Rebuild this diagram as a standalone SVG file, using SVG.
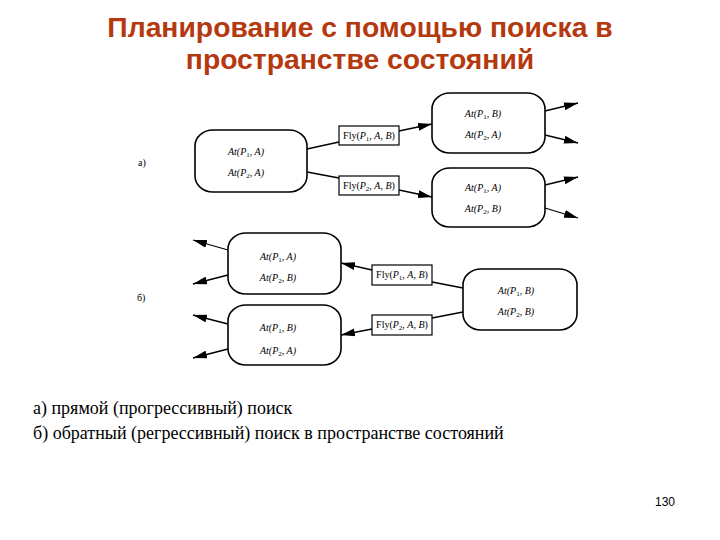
<svg xmlns="http://www.w3.org/2000/svg" width="720" height="540" viewBox="0 0 720 540">
<style>
.title{font-family:"Liberation Sans",Arial,sans-serif;font-weight:bold;font-size:28.3px;fill:#b5390f;text-anchor:middle}
.cap{font-family:"Liberation Serif","Times New Roman",serif;font-size:18px;fill:#000}
.num{font-family:"Liberation Sans",Arial,sans-serif;font-size:12px;fill:#000}
.st{fill:#fff;stroke:#000;stroke-width:1.6}
.op{fill:#fff;stroke:#000;stroke-width:1.2}
.lbl{font-family:"Liberation Serif","Times New Roman",serif;font-size:10px;font-style:italic;fill:#000;text-anchor:middle}
.flbl{font-family:"Liberation Serif","Times New Roman",serif;font-size:10px;fill:#000;text-anchor:middle}
.it{font-style:italic}
.sub{font-size:7px;font-style:normal}
.side{font-family:"Liberation Serif","Times New Roman",serif;font-size:10px;fill:#000}
.ln{stroke:#000;stroke-width:1.3;fill:none}
.arr{marker-end:url(#ah)}
</style>
<defs>
<marker id="ah" markerUnits="userSpaceOnUse" markerWidth="14" markerHeight="8" viewBox="0 0 14 8" refX="14" refY="4" orient="auto">
<path d="M0,0 L14,4 L0,8 Z" fill="#000"/>
</marker>
</defs>

<text class="title" x="360" y="37">Планирование с помощью поиска в</text>
<text class="title" x="360" y="69">пространстве состояний</text>

<text class="side" x="138" y="166">а)</text>
<text class="side" x="137" y="301">б)</text>

<g id="connectors">
<line class="ln" x1="307" y1="149" x2="339" y2="142"/>
<line class="ln arr" x1="399" y1="131" x2="432" y2="124"/>
<line class="ln" x1="307" y1="172" x2="339" y2="178"/>
<line class="ln arr" x1="399" y1="190" x2="432" y2="197"/>
<line class="ln arr" x1="545" y1="111" x2="578" y2="103"/>
<line class="ln arr" x1="545" y1="135" x2="578" y2="143"/>
<line class="ln arr" x1="545" y1="185" x2="578" y2="177"/>
<line class="ln arr" x1="545" y1="208" x2="578" y2="218"/>

<line class="ln" x1="463" y1="288" x2="432" y2="282"/>
<line class="ln arr" x1="372" y1="270" x2="341" y2="263"/>
<line class="ln" x1="463" y1="312" x2="432" y2="318"/>
<line class="ln arr" x1="372" y1="329" x2="341" y2="335"/>
<line class="ln arr" x1="228" y1="250" x2="193" y2="240"/>
<line class="ln arr" x1="228" y1="275" x2="193" y2="284"/>
<line class="ln arr" x1="228" y1="324" x2="193" y2="315"/>
<line class="ln arr" x1="228" y1="349" x2="193" y2="358"/>
</g>

<g id="a-start">
<rect class="st" x="195" y="130" width="112" height="62" rx="18" ry="16"/>
<text class="lbl" x="246" y="155">At(P<tspan class="sub" dy="2">1</tspan><tspan dy="-2">, A)</tspan></text>
<text class="lbl" x="246" y="176">At(P<tspan class="sub" dy="2">2</tspan><tspan dy="-2">, A)</tspan></text>
</g>
<g id="a-fly1">
<rect class="op" x="339" y="126" width="60" height="19"/>
<text class="flbl" x="369" y="139">Fly(<tspan class="it">P</tspan><tspan class="sub" dy="2">1</tspan><tspan dy="-2">, </tspan><tspan class="it">A</tspan>, <tspan class="it">B</tspan>)</text>
</g>
<g id="a-fly2">
<rect class="op" x="339" y="176" width="60" height="19"/>
<text class="flbl" x="369" y="189">Fly(<tspan class="it">P</tspan><tspan class="sub" dy="2">2</tspan><tspan dy="-2">, </tspan><tspan class="it">A</tspan>, <tspan class="it">B</tspan>)</text>
</g>
<g id="a-top">
<rect class="st" x="432" y="93" width="113" height="60" rx="18" ry="16"/>
<text class="lbl" x="483" y="117">At(P<tspan class="sub" dy="2">1</tspan><tspan dy="-2">, B)</tspan></text>
<text class="lbl" x="483" y="138">At(P<tspan class="sub" dy="2">2</tspan><tspan dy="-2">, A)</tspan></text>
</g>
<g id="a-bottom">
<rect class="st" x="432" y="168" width="113" height="59" rx="18" ry="16"/>
<text class="lbl" x="483" y="191">At(P<tspan class="sub" dy="2">1</tspan><tspan dy="-2">, A)</tspan></text>
<text class="lbl" x="483" y="212">At(P<tspan class="sub" dy="2">2</tspan><tspan dy="-2">, B)</tspan></text>
</g>

<g id="b-goal">
<rect class="st" x="463" y="269" width="114" height="61" rx="18" ry="16"/>
<text class="lbl" x="516" y="294">At(P<tspan class="sub" dy="2">1</tspan><tspan dy="-2">, B)</tspan></text>
<text class="lbl" x="516" y="315">At(P<tspan class="sub" dy="2">2</tspan><tspan dy="-2">, B)</tspan></text>
</g>
<g id="b-fly1">
<rect class="op" x="372" y="265" width="60" height="20"/>
<text class="flbl" x="402" y="278">Fly(<tspan class="it">P</tspan><tspan class="sub" dy="2">1</tspan><tspan dy="-2">, </tspan><tspan class="it">A</tspan>, <tspan class="it">B</tspan>)</text>
</g>
<g id="b-fly2">
<rect class="op" x="372" y="315" width="60" height="20"/>
<text class="flbl" x="402" y="328">Fly(<tspan class="it">P</tspan><tspan class="sub" dy="2">2</tspan><tspan dy="-2">, </tspan><tspan class="it">A</tspan>, <tspan class="it">B</tspan>)</text>
</g>
<g id="b-top">
<rect class="st" x="228" y="233" width="113" height="61" rx="18" ry="16"/>
<text class="lbl" x="278" y="260">At(P<tspan class="sub" dy="2">1</tspan><tspan dy="-2">, A)</tspan></text>
<text class="lbl" x="278" y="281">At(P<tspan class="sub" dy="2">2</tspan><tspan dy="-2">, B)</tspan></text>
</g>
<g id="b-bottom">
<rect class="st" x="228" y="305" width="113" height="60" rx="18" ry="16"/>
<text class="lbl" x="278" y="331">At(P<tspan class="sub" dy="2">1</tspan><tspan dy="-2">, B)</tspan></text>
<text class="lbl" x="278" y="354">At(P<tspan class="sub" dy="2">2</tspan><tspan dy="-2">, A)</tspan></text>
</g>

<text class="cap" x="33" y="414">а) прямой (прогрессивный) поиск</text>
<text class="cap" x="33" y="439">б) обратный (регрессивный) поиск в пространстве состояний</text>
<text class="num" x="655" y="506">130</text>
</svg>
